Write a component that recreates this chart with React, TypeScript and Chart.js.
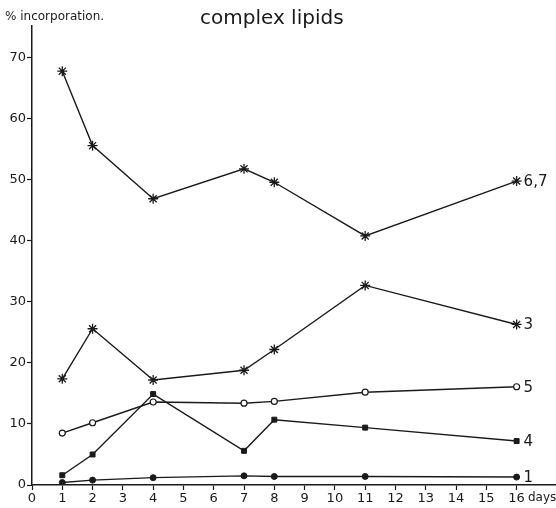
import React, { useEffect, useRef } from "react";
import { Chart, registerables } from "chart.js";

Chart.register(...registerables);

const days = [1, 2, 4, 7, 8, 11, 16];
const series67 = [67.8, 55.6, 46.9, 51.8, 49.6, 40.8, 49.8];
const series3 = [17.4, 25.6, 17.2, 18.8, 22.2, 32.7, 26.3];
const series5 = [8.5, 10.2, 13.6, 13.4, 13.7, 15.2, 16.1];
const series4 = [1.6, 5.0, 14.9, 5.6, 10.7, 9.4, 7.2];
const series1 = [0.4, 0.8, 1.2, 1.5, 1.4, 1.4, 1.3];
const seriesLabels = ["6,7", "3", "5", "4", "1"];
const xTickMax = 16;
const yTicks = [0, 10, 20, 30, 40, 50, 60, 70];

const FONT = "'DejaVu Sans', 'Noto Sans', sans-serif";
const INK = "#1a1a1a";

export default function App() {
  const ref = useRef<HTMLCanvasElement | null>(null);
  useEffect(() => {
    if (!ref.current) return;
    const toPts = (vals: number[]) => vals.map((v, i) => ({ x: days[i], y: v }));
    const labelsPlugin = {
      id: "annot",
      afterDraw(chart: any) {
        const ctx = chart.ctx;
        ctx.save();
        ctx.fillStyle = INK;
        ctx.textBaseline = "alphabetic";
        ctx.font = `20px ${FONT}`;
        ctx.fillText("complex lipids", 200, 24);
        ctx.font = `12px ${FONT}`;
        ctx.fillText("% incorporation.", 5, 20);
        ctx.font = `15px ${FONT}`;
        ctx.textBaseline = "middle";
        chart.data.datasets.forEach((ds: any, i: number) => {
          const meta = chart.getDatasetMeta(i);
          const last = meta.data[meta.data.length - 1];
          ctx.fillText(seriesLabels[i], last.x + 7, last.y + 1);
        });
        ctx.font = `12px ${FONT}`;
        ctx.fillText("days", 528, 498);
        ctx.restore();
      },
    };
    const common = {
      borderColor: INK,
      borderWidth: 1.4,
      pointBorderColor: INK,
      showLine: true,
      tension: 0,
    };
    const chart = new Chart(ref.current, {
      type: "scatter",
      data: {
        datasets: [
          { ...common, label: "6,7", data: toPts(series67), pointStyle: "star", pointRadius: 5, pointBorderWidth: 1.3, backgroundColor: INK },
          { ...common, label: "3", data: toPts(series3), pointStyle: "star", pointRadius: 5, pointBorderWidth: 1.3, backgroundColor: INK },
          { ...common, label: "5", data: toPts(series5), pointStyle: "circle", pointRadius: 3, pointBorderWidth: 1.2, pointBackgroundColor: "#fff", backgroundColor: "#fff" },
          { ...common, label: "4", data: toPts(series4), pointStyle: "rect", pointRadius: 3.5, pointBorderWidth: 1, pointBackgroundColor: INK, backgroundColor: INK },
          { ...common, label: "1", data: toPts(series1), pointStyle: "circle", pointRadius: 3, pointBorderWidth: 1, pointBackgroundColor: INK, backgroundColor: INK },
        ] as any,
      },
      options: {
        animation: false,
        responsive: false,
        layout: { autoPadding: false, padding: { top: 26, left: 0, right: 0, bottom: 0 } },
        plugins: { legend: { display: false }, tooltip: { enabled: false }, title: { display: false } },
        scales: {
          x: {
            type: "linear",
            min: 0,
            max: 17.3,
            afterFit: (s: any) => { s.height = 23; s.paddingRight = 0; s.paddingLeft = 0; },
            afterBuildTicks: (s: any) => {
              const t = [];
              for (let i = 0; i <= xTickMax; i++) t.push({ value: i });
              s.ticks = t;
            },
            grid: { display: true, drawOnChartArea: false, drawTicks: true, tickLength: 5, color: INK, tickWidth: 1.2 },
            border: { display: true, color: INK, width: 1.5 },
            ticks: { color: INK, font: { family: FONT, size: 13 }, padding: 1, autoSkip: false, maxRotation: 0 },
          },
          y: {
            type: "linear",
            min: 0,
            max: 75.2,
            afterFit: (s: any) => { s.width = 32; s.paddingTop = 0; s.paddingBottom = 0; },
            afterBuildTicks: (s: any) => { s.ticks = yTicks.map((v) => ({ value: v })); },
            grid: { display: true, drawOnChartArea: false, drawTicks: true, tickLength: 5, color: INK, tickWidth: 1.2 },
            border: { display: true, color: INK, width: 1.5 },
            ticks: { color: INK, font: { family: FONT, size: 13 }, padding: 1 },
          },
        },
      } as any,
      plugins: [labelsPlugin],
    });
    return () => chart.destroy();
  }, []);
  return (
    <div style={{ position: "absolute", left: 0, top: 0, width: 556, height: 508, background: "#fff" }}>
      <canvas ref={ref} width={556} height={508} style={{ width: 556, height: 508 }} />
    </div>
  );
}
